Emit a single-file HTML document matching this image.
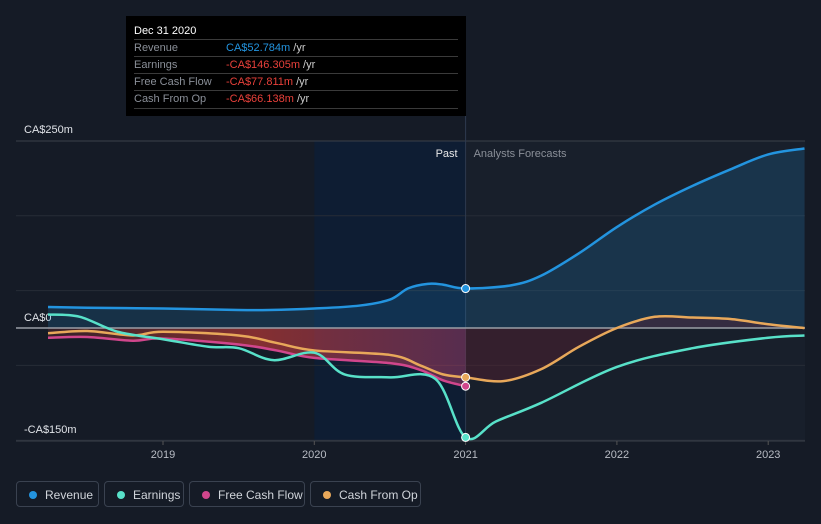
<!DOCTYPE html>
<html><head><meta charset="utf-8"><style>
body{margin:0;background:#151b26;font-family:"Liberation Sans",sans-serif;}
#wrap{position:relative;width:821px;height:524px;overflow:hidden;background:#151b26}
.tt{position:absolute;left:126px;top:16px;width:340px;height:100px;background:#000;color:#ccc;font-size:11px}
.tt .row{position:absolute;left:8px;width:324px;border-top:1px solid #3a3a3a;height:17px;line-height:17px}
.tt .lbl{color:#8a8f98;position:absolute;left:0}
.tt .val{position:absolute;left:92px}
.legend{position:absolute;top:481px;height:26px;border:1px solid #3a4250;border-radius:4px;color:#d0d4da;font-size:12px;line-height:26px;box-sizing:border-box;padding-left:28px}
.legend i{position:absolute;left:12px;top:9px;width:8px;height:8px;border-radius:50%}
</style></head><body>
<div id="wrap">
<svg id="svg" width="821" height="524" style="position:absolute;left:0;top:0"></svg>
<div class="tt">
 <div style="position:absolute;left:8px;top:9px;color:#fff;font-size:11px">Dec 31 2020</div>
 <div class="row" style="top:23px"><span class="lbl">Revenue</span><span class="val" style="color:#2394df">CA$52.784m <span style="color:#ccc">/yr</span></span></div>
 <div class="row" style="top:40px"><span class="lbl">Earnings</span><span class="val" style="color:#e8403a">-CA$146.305m <span style="color:#ccc">/yr</span></span></div>
 <div class="row" style="top:57px"><span class="lbl">Free Cash Flow</span><span class="val" style="color:#e8403a">-CA$77.811m <span style="color:#ccc">/yr</span></span></div>
 <div class="row" style="top:74px;border-bottom:1px solid #3a3a3a"><span class="lbl">Cash From Op</span><span class="val" style="color:#e8403a">-CA$66.138m <span style="color:#ccc">/yr</span></span></div>
</div>
<div class="legend" style="left:16px;width:83px"><i style="background:#2394df"></i>Revenue</div>
<div class="legend" style="left:104px;width:80px"><i style="background:#58e1c9"></i>Earnings</div>
<div class="legend" style="left:189px;width:116px"><i style="background:#d0468c"></i>Free Cash Flow</div>
<div class="legend" style="left:310px;width:111px"><i style="background:#e8a85a"></i>Cash From Op</div>
</div>
<script>
const revT=[2018.24,2018.5,2019,2019.5,2019.7,2020,2020.3,2020.5,2020.62,2020.75,2020.85,2021,2021.3,2021.5,2021.75,2022,2022.25,2022.5,2022.75,2023,2023.24];
const revV=[28,27,26,24,24,26,30,38,53,59,58,52.8,57,70,100,135,165,190,212,232,240];
const earnT=[2018.24,2018.45,2018.7,2019,2019.3,2019.5,2019.73,2020,2020.2,2020.5,2020.8,2021,2021.2,2021.5,2022,2022.5,2023,2023.24];
const earnV=[18,15,-5,-15,-25,-27,-43,-33,-62,-66,-68,-146.3,-125,-100,-52,-27,-13,-10];
const fcfT=[2018.24,2018.5,2018.8,2019,2019.5,2019.75,2020,2020.5,2020.7,2020.85,2021];
const fcfV=[-13,-12,-17,-14,-22,-30,-40,-47,-56,-70,-77.8];
const cfoT=[2018.24,2018.5,2018.8,2019,2019.5,2019.75,2020,2020.5,2020.7,2020.85,2021,2021.25,2021.5,2021.75,2022,2022.25,2022.5,2022.75,2023,2023.24];
const cfoV=[-7,-4,-10,-5,-10,-20,-30,-36,-50,-62,-66,-71,-55,-25,0,15,14,12,5,0];
const yTicks=[250,0,-150];const yTickLabels=["CA$250m","CA$0","-CA$150m"];
const xYears=[2019,2020,2021,2022,2023];
const X=t=>163+(t-2019)*151.3, Y=v=>328-v*0.748;
const svg=document.getElementById('svg');const NS='http://www.w3.org/2000/svg';
function add(tag,a,name,parent){const e=document.createElementNS(NS,tag);for(const k in a)e.setAttribute(k,a[k]);


(parent||svg).appendChild(e);return e;}
function pts(T,V){return T.map((t,i)=>[X(t),Y(V[i])]);}
function smooth(p){let d='M'+p[0][0]+','+p[0][1];for(let i=0;i<p.length-1;i++){const p0=p[i-1]||p[i],p1=p[i],p2=p[i+1],p3=p[i+2]||p2;
d+=' C'+(p1[0]+(p2[0]-p0[0])/6)+','+(p1[1]+(p2[1]-p0[1])/6)+' '+(p2[0]-(p3[0]-p1[0])/6)+','+(p2[1]-(p3[1]-p1[1])/6)+' '+p2[0]+','+p2[1];}return d;}
const defs=add('defs',{},'defs');
defs.innerHTML='<linearGradient id="rg" x1="0" x2="1"><stop offset="0" stop-color="#e0403a" stop-opacity="0.15"/><stop offset="0.5" stop-color="#e0403a" stop-opacity="0.55"/><stop offset="1" stop-color="#b04070" stop-opacity="0.45"/></linearGradient>';
add('rect',{x:X(2020),y:141,width:X(2021)-X(2020),height:300,fill:'#0e1d33'},'past-shade');
add('rect',{x:X(2021),y:141,width:805-X(2021),height:300,fill:'#181f2b'},'forecast-shade');
[250,150,50,-50,-150].forEach(v=>add('line',{x1:16,x2:805,y1:Y(v),y2:Y(v),stroke:v==250?'#3a404a':'#262c36','stroke-width':1},'gridline'));
add('line',{x1:16,x2:805,y1:441,y2:441,stroke:'#3a404a'},'x-axis-line');
xYears.forEach(y=>{add('line',{x1:X(y),x2:X(y),y1:441,y2:445,stroke:'#555'},'x-tick');
const t=add('text',{x:X(y),y:458,fill:'#b8bcc4','font-size':11,'text-anchor':'middle'},'x-tick-label');t.textContent=y;});
const yLabelY=[133,321,433];
yTicks.forEach((v,i)=>{const t=add('text',{x:24,y:yLabelY[i],fill:'#e0e3e8','font-size':11},'y-tick-label');t.textContent=yTickLabels[i];});
add('line',{x1:X(2021),x2:X(2021),y1:116,y2:441,stroke:'#2e3a4e'},'today-line');
let t=add('text',{x:X(2021)-8,y:157,fill:'#e8e8e8','font-size':11,'text-anchor':'end'},'past-label');t.textContent='Past';
t=add('text',{x:X(2021)+8,y:157,fill:'#8a8f98','font-size':11},'forecast-label');t.textContent='Analysts Forecasts';
const rp=pts(revT,revV);
add('path',{d:smooth(rp)+' L'+rp[rp.length-1][0]+','+Y(0)+' L'+rp[0][0]+','+Y(0)+'Z',fill:'#2394df','fill-opacity':0.18},'revenue-area');
const fp=pts(fcfT,fcfV);
add('path',{d:smooth(fp)+' L'+fp[fp.length-1][0]+','+Y(0)+' L'+fp[0][0]+','+Y(0)+'Z',fill:'url(#rg)'},'loss-area');
const cp=pts(cfoT,cfoV).filter(p=>p[0]>=X(2021)-0.1);
add('path',{d:smooth(cp)+' L'+cp[cp.length-1][0]+','+Y(0)+' L'+cp[0][0]+','+Y(0)+'Z',fill:'#6a2030','fill-opacity':0.35},'forecast-loss-area');
add('line',{x1:16,x2:805,y1:Y(0),y2:Y(0),stroke:'#9a9ea6','stroke-width':1.5},'zero-line');
function line(T,V,c,name){add('path',{d:smooth(pts(T,V)),fill:'none',stroke:c,'stroke-width':2.5},name);}
line(fcfT,fcfV,'#d0468c','fcf-line');
line(cfoT,cfoV,'#e8a85a','cfo-line');
line(earnT,earnV,'#58e1c9','earnings-line');
line(revT,revV,'#2394df','revenue-line');
[[revT,revV,'#2394df'],[earnT,earnV,'#58e1c9'],[fcfT,fcfV,'#d0468c'],[cfoT,cfoV,'#e8a85a']].forEach(s=>{
const i=s[0].indexOf(2021);add('circle',{cx:X(2021),cy:Y(s[1][i]),r:4,fill:s[2],stroke:'#fff','stroke-width':1},'marker-2021');});
</script>
</body></html>
